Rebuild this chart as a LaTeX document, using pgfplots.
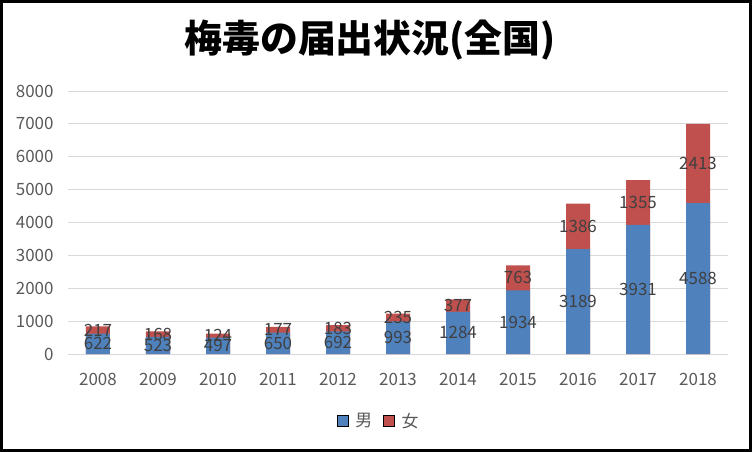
\documentclass[border=0pt]{standalone}
\usepackage{fontspec}
\setmainfont{Noto Sans CJK JP}
\usepackage{pgfplots}
\usepackage{pgfplotstable}
\pgfplotsset{compat=1.18}
\definecolor{male}{HTML}{4F81BD}
\definecolor{female}{HTML}{C0504D}
\definecolor{gridc}{HTML}{D9D9D9}
\definecolor{tickc}{HTML}{595959}
\definecolor{labc}{HTML}{404040}

% 0=2008 ... 10=2018
\pgfplotstableread{
x m f
0 622 217
1 523 168
2 497 124
3 650 177
4 692 183
5 993 235
6 1284 377
7 1934 763
8 3189 1386
9 3931 1355
10 4588 2413
}\syphilis

\begin{document}
\begin{tikzpicture}
\begin{axis}[
  at={(0,0)}, anchor=south west,
  scale only axis,
  width=660bp, height=263bp,
  xmin=-0.5, xmax=10.5,
  ymin=0, ymax=8000,
  ytick={0,1000,...,8000},
  xtick={0,...,10},
  xticklabels={2008,2009,2010,2011,2012,2013,2014,2015,2016,2017,2018},
  axis line style={draw=none},
  tick style={draw=none},
  ymajorgrids=true,
  grid style={draw=gridc, line width=1bp},
  /pgf/number format/assume math mode=true,
  /pgf/number format/1000 sep={},
  ticklabel style={font=\fontsize{17}{19}\selectfont, text=tickc},
  yticklabel style={xshift=-11bp},
  xticklabel style={yshift=-16bp},
  legend style={at={(0.471,-0.255)}, anchor=center, draw=none,
    font=\fontsize{17}{19}\selectfont, text=tickc,
    /tikz/every odd column/.append style={column sep=5bp},
    /tikz/every even column/.append style={column sep=9bp}},
  legend columns=2,
  legend image code/.code={\fill[#1] (0bp,-5.5bp) rectangle (11bp,5.5bp);},
  clip=false,
]
% women bar drawn to the total, men bar drawn over it
\addplot[ybar, bar width=24bp, bar shift=0pt, fill=female, draw=none, forget plot]
  table[x=x, y expr=\thisrow{m}+\thisrow{f}] {\syphilis};
\addplot[ybar, bar width=24bp, bar shift=0pt, fill=male, draw=none, forget plot]
  table[x=x, y=m] {\syphilis};
\addlegendimage{fill=male}
\addlegendentry{男}
\addlegendimage{fill=female}
\addlegendentry{女}
% data labels centred in each segment
\addplot[draw=none, mark=none, forget plot,
  point meta=explicit symbolic,
  nodes near coords, nodes near coords style={anchor=center,
    font=\fontsize{17}{19}\selectfont, text=labc}]
  table[x=x, y expr=\thisrow{m}/2, meta=m] {\syphilis};
\addplot[draw=none, mark=none, forget plot,
  point meta=explicit symbolic,
  nodes near coords, nodes near coords style={anchor=center,
    font=\fontsize{17}{19}\selectfont, text=labc}]
  table[x=x, y expr=\thisrow{m}+\thisrow{f}/2, meta=f] {\syphilis};
\end{axis}
\path[use as bounding box] (-68bp,-98bp) rectangle (684bp,354bp);
\draw[line width=3bp] (-66.5bp,-96.5bp) rectangle (682.5bp,352.5bp);
\node[font=\fontsize{38}{40}\selectfont\bfseries] at (302bp,314bp) {梅毒の届出状況(全国)};
\end{tikzpicture}
\end{document}
